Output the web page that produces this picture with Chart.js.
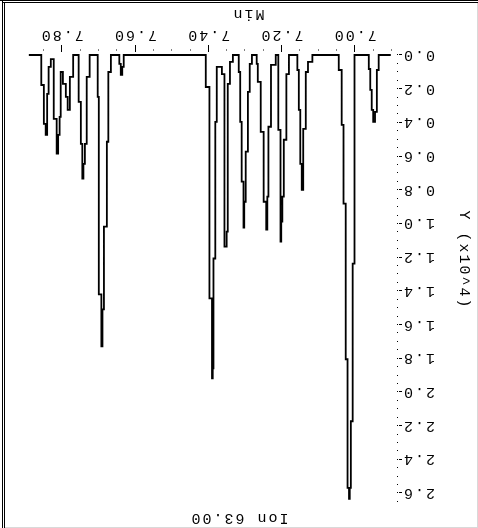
<!DOCTYPE html>
<html>
<head>
<meta charset="utf-8">
<script src="https://cdn.jsdelivr.net/npm/chart.js@4.4.1/dist/chart.umd.min.js"></script>
<style>
html,body{margin:0;padding:0;background:#fff;overflow:hidden;width:478px;height:528px;}
#wrap{position:absolute;left:0;top:0;width:478px;height:528px;transform:rotate(180deg);}
#wrap canvas{position:absolute;left:0;top:0;}
.ln{position:absolute;pointer-events:none;z-index:5;}
</style>
</head>
<body>
<div id="wrap"><canvas id="c" width="478" height="528"></canvas></div>
<div class="ln" style="left:0;top:0;width:478px;height:1px;background:#000"></div>
<div class="ln" style="left:2px;top:2px;width:476px;height:1px;background:#000"></div>
<div class="ln" style="left:2px;top:0;width:1px;height:528px;background:#000"></div>
<div class="ln" style="left:4px;top:2px;width:1px;height:526px;background:#000"></div>
<div class="ln" style="left:477px;top:3px;width:1px;height:525px;background:#d9d9d9"></div>
<div class="ln" style="left:5px;top:527px;width:473px;height:1px;background:#d9d9d9"></div>
<script>
const chartTitle = 'Ion 63.00';
const xTitle = 'Min';
const yTitle = 'Y (x10^4)';
const xTickLabels = ['7.00', '7.20', '7.40', '7.60', '7.80'];
const yTickLabels = ['0.0','0.2','0.4','0.6','0.8','1.0','1.2','1.4','1.6','1.8','2.0','2.2','2.4','2.6'];

// retention time (min)
const times = [
  6.902,
  6.935, 6.940, 6.945, 6.950, 6.954, 6.958, 6.962,
  7.001, 7.006, 7.011, 7.014, 7.016, 7.020, 7.025, 7.031, 7.036, 7.044,
  7.116, 7.128, 7.134, 7.141, 7.145, 7.149, 7.153, 7.157,
  7.180, 7.187, 7.194, 7.198, 7.201, 7.203, 7.209,
  7.216, 7.229, 7.236, 7.239, 7.242, 7.249, 7.257, 7.265, 7.268,
  7.281, 7.287, 7.292, 7.298, 7.302, 7.304, 7.309, 7.313, 7.317,
  7.333, 7.341, 7.347, 7.350, 7.356, 7.363,
  7.377, 7.381, 7.386, 7.388, 7.390, 7.397, 7.407,
  7.631, 7.635, 7.639, 7.643,
  7.666, 7.673, 7.677, 7.685, 7.689, 7.692, 7.699, 7.702,
  7.724, 7.732, 7.737, 7.741, 7.744, 7.748, 7.754,
  7.769, 7.778, 7.784, 7.789, 7.797,
  7.803, 7.806, 7.810, 7.814, 7.822,
  7.830, 7.836, 7.840, 7.844, 7.849, 7.856,
  7.890
];
// abundance (x10^4)
const signal = [
  0,
  0.089, 0.338, 0.397, 0.326, 0.207, 0.083, 0,
  1.238, 2.174, 2.570, 2.635, 2.570, 1.806, 0.882, 0.415, 0.089, 0,
  0.041, 0.101, 0.438, 0.800, 0.646, 0.326, 0.089, 0,
  0.113, 0.503, 0.841, 0.989, 1.107, 0.444, 0,
  0.059, 0.426, 0.841, 1.036, 0.871, 0.456, 0.160, 0.053, 0,
  0.053, 0.219, 0.574, 0.871, 1.025, 0.752, 0.397, 0.101, 0,
  0.041, 0.172, 1.048, 1.137, 0.113, 0.071,
  0.397, 1.208, 1.860, 1.919, 1.445, 0.190, 0,
  0.071, 0.118, 0.053, 0,
  0.101, 0.515, 1.019, 1.510, 1.729, 1.421, 0.249, 0,
  0.130, 0.527, 0.646, 0.734, 0.527, 0.278, 0,
  0.130, 0.326, 0.249, 0.172, 0.101,
  0.367, 0.474, 0.586, 0.379, 0.024,
  0.071, 0.231, 0.474, 0.409, 0.178, 0,
  0
];

const FONT = 'Liberation Mono';
Chart.defaults.font.family = FONT;
Chart.defaults.font.size = 15;
Chart.defaults.color = '#000';

const isMajor = (v) => Math.abs(v * 5 - Math.round(v * 5)) < 1e-6;

const spacingPlugin = {
  id: 'spacing',
  beforeInit(c) { c.ctx.letterSpacing = '2px'; },
  beforeUpdate(c) { c.ctx.letterSpacing = '2px'; },
  beforeDraw(c) { c.ctx.letterSpacing = '2px'; }
};
const axisTitlePlugin = {
  id: 'axisTitles',
  afterDraw(c) {
    const ctx = c.ctx;
    const a = c.chartArea;
    ctx.save();
    ctx.font = '15px "' + FONT + '"';
    ctx.letterSpacing = '2px';
    ctx.fillStyle = '#000';
    ctx.textAlign = 'center';
    ctx.textBaseline = 'middle';
    ctx.fillText(xTitle, a.left + 149, c.height - 14);
    ctx.translate(14, (a.top + a.bottom) / 2 + 19);
    ctx.rotate(-Math.PI / 2);
    ctx.fillText(yTitle, 0, 0);
    ctx.restore();
  }
};

new Chart(document.getElementById('c'), {
  type: 'line',
  data: {
    datasets: [{
      data: times.map((t, i) => ({x: t, y: signal[i]})),
      borderColor: '#000',
      borderWidth: 1.8,
      pointRadius: 0,
      stepped: 'before',
      fill: false,
      tension: 0,
      clip: false
    }]
  },
  options: {
    responsive: false,
    animation: false,
    devicePixelRatio: 1,
    events: [],
    layout: {padding: {left: 0, right: 0, top: 0, bottom: 25}},
    plugins: {
      legend: {display: false},
      tooltip: {enabled: false},
      title: {
        display: true, text: chartTitle, color: '#000',
        font: {size: 15, weight: 'normal'},
        padding: {top: 1, bottom: 5.9}
      }
    },
    scales: {
      x: {
        type: 'linear', position: 'bottom',
        min: 6.885, max: 7.895,
        border: {display: false},
        grid: {
          drawOnChartArea: false, drawTicks: true, tickLength: 10,
          tickColor: '#000', tickWidth: 1,
          tickBorderDash: (ctx) => isMajor(ctx.tick.value) ? [0, 3, 7, 20] : [0, 4.5, 1, 20]
        },
        ticks: {
          stepSize: 0.05, autoSkip: false, maxRotation: 0, minRotation: 0,
          includeBounds: false, padding: 1,
          callback: (v) => { const s = Number(v).toFixed(2); return isMajor(v) && xTickLabels.includes(s) ? s : ''; }
        }
      },
      y: {
        type: 'linear', position: 'left',
        min: 0, max: 2.66,
        border: {display: false},
        grid: {
          drawOnChartArea: false, drawTicks: true, tickLength: 5,
          tickColor: '#000', tickWidth: 1,
          tickBorderDash: (ctx) => isMajor(ctx.tick.value) ? [3, 1, 1, 20] : [0, 4, 1, 20]
        },
        ticks: {
          stepSize: 0.05, autoSkip: false, includeBounds: false, padding: 0,
          callback: (v) => { const s = Number(v).toFixed(1); return isMajor(v) && yTickLabels.includes(s) ? s : ''; }
        },
        afterFit: (s) => { s.width = 81; }
      },
      pad: {
        type: 'linear', position: 'right', display: true,
        grid: {display: false}, border: {display: false}, ticks: {display: false},
        afterFit: (s) => { s.width = 27; }
      }
    }
  },
  plugins: [spacingPlugin, axisTitlePlugin]
});
</script>
</body>
</html>
